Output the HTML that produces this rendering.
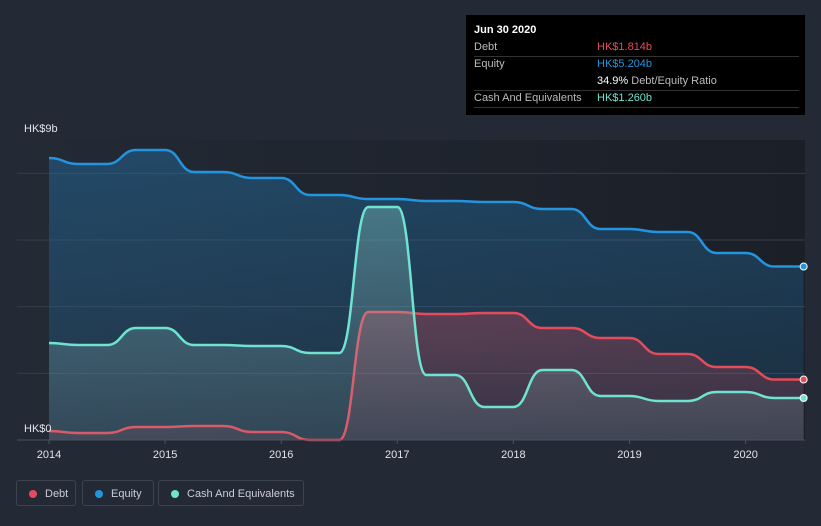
<!DOCTYPE html>
<html><head><meta charset="utf-8">
<style>
body{margin:0;background:#232a35;font-family:"Liberation Sans",sans-serif;}
#wrap{position:relative;width:821px;height:526px;overflow:hidden;background:#232a35;}
svg{position:absolute;left:0;top:0;}
.tt{position:absolute;left:466px;top:15px;width:339px;height:100px;background:#000;color:#fff;font-size:11px;}
.row{position:absolute;left:8px;right:6px;height:17px;border-bottom:1px solid #333;}
.row span{position:absolute;top:2px;}
.leg{position:absolute;top:480px;height:26px;border:1px solid #3c4452;border-radius:3px;color:#ccd;font-size:11px;line-height:26px;box-sizing:border-box;padding-left:28px;}
.leg i{position:absolute;left:12px;top:9px;width:8px;height:8px;border-radius:50%;}
</style></head><body>
<div id="wrap">
<svg id="chart" width="821" height="526">
<defs>
<linearGradient id="gEq" x1="0" y1="0" x2="0" y2="1"><stop offset="0" stop-color="#2394df" stop-opacity="0.3"/><stop offset="1" stop-color="#2394df" stop-opacity="0.12"/></linearGradient>
<linearGradient id="gDe" x1="0" y1="0" x2="0" y2="1"><stop offset="0" stop-color="#e64b5b" stop-opacity="0.3"/><stop offset="1" stop-color="#e64b5b" stop-opacity="0.1"/></linearGradient>
<linearGradient id="gCa" x1="0" y1="0" x2="0" y2="1"><stop offset="0" stop-color="#8fd8cf" stop-opacity="0.35"/><stop offset="1" stop-color="#8fb0b5" stop-opacity="0.15"/></linearGradient>
<linearGradient id="gBg" x1="0" y1="0" x2="1" y2="0"><stop offset="0" stop-color="#232a35"/><stop offset="1" stop-color="#1b1f27"/></linearGradient>
</defs>
</svg>
<div class="tt">
 <div style="position:absolute;left:8px;top:9px;font-weight:bold;">Jun 30 2020</div>
 <div class="row" style="top:24px"><span style="color:#bbb">Debt</span><span style="left:123px;color:#e64b5b">HK$1.814b</span></div>
 <div class="row" style="top:41px;border:none"><span style="color:#bbb">Equity</span><span style="left:123px;color:#2394df">HK$5.204b</span></div>
 <div class="row" style="top:58px"><span style="left:123px;color:#fff">34.9% <span style="position:static;color:#bbb">Debt/Equity Ratio</span></span></div>
 <div class="row" style="top:75px"><span style="color:#bbb">Cash And Equivalents</span><span style="left:123px;color:#6fe3d0">HK$1.260b</span></div>
</div>
<div class="leg" style="left:16px;width:60px"><i style="background:#e64b5b"></i>Debt</div>
<div class="leg" style="left:82px;width:72px"><i style="background:#2394df"></i>Equity</div>
<div class="leg" style="left:158px;width:146px"><i style="background:#6fe3d0"></i>Cash And Equivalents</div>
</div>
<script>
const dates=[2014,2014.25,2014.5,2014.75,2015,2015.25,2015.5,2015.75,2016,2016.25,2016.5,2016.75,2017,2017.25,2017.5,2017.75,2018,2018.25,2018.5,2018.75,2019,2019.25,2019.5,2019.75,2020,2020.25,2020.5];
const equity=[8.46,8.28,8.28,8.7,8.7,8.04,8.04,7.86,7.86,7.35,7.35,7.23,7.23,7.17,7.17,7.14,7.14,6.93,6.93,6.33,6.33,6.24,6.24,5.61,5.61,5.204,5.204];
const cash=[2.91,2.85,2.85,3.36,3.36,2.85,2.85,2.82,2.82,2.61,2.61,6.99,6.99,1.95,1.95,0.99,0.99,2.1,2.1,1.32,1.32,1.17,1.17,1.44,1.44,1.26,1.26];
const debt=[0.27,0.21,0.21,0.39,0.39,0.42,0.42,0.24,0.24,0,0,3.84,3.84,3.78,3.78,3.81,3.81,3.36,3.36,3.06,3.06,2.58,2.58,2.19,2.19,1.814,1.814];
const yearTicks=[2014,2015,2016,2017,2018,2019,2020];
const gridVals=[2,4,6,8];
const X=d=>49+(d-2014)*116.1;
const Y=v=>440-v*33.33;
const svg=document.getElementById('chart');
const NS='http://www.w3.org/2000/svg';
function mk(t,a){const e=document.createElementNS(NS,t);for(const k in a)e.setAttribute(k,a[k]);svg.appendChild(e);return e;}
let bg=mk('rect',{x:17,y:140,width:788,height:300,fill:'url(#gBg)'});


gridVals.forEach(v=>{const l=mk('line',{x1:17,x2:805,y1:Y(v),y2:Y(v),stroke:'#343b47','stroke-width':1});

});
function path(vals){let d='M'+X(dates[0])+','+Y(vals[0]);for(let i=1;i<dates.length;i++){const x0=X(dates[i-1]),x1=X(dates[i]),m=(x0+x1)/2;d+=` C${m},${Y(vals[i-1])} ${m},${Y(vals[i])} ${x1},${Y(vals[i])}`;}return d;}
function series(vals,color,grad,name){const p=path(vals);
const a=mk('path',{d:p+` L${X(dates[dates.length-1])},440 L${X(dates[0])},440 Z`,fill:grad});


const l=mk('path',{d:p,fill:'none',stroke:color,'stroke-width':2.5});


const c=mk('circle',{cx:X(dates[dates.length-1]),cy:Y(vals[vals.length-1]),r:3.5,fill:color,stroke:'#fff','stroke-width':1});

}
series(equity,'#2394df','url(#gEq)','equity');
series(debt,'#e64b5b','url(#gDe)','debt');
series(cash,'#6fe3d0','url(#gCa)','cash');
const ax=mk('line',{x1:17,x2:805,y1:440,y2:440,stroke:'#4a525e','stroke-width':1});


yearTicks.forEach(y=>{const tk=mk('line',{x1:X(y),x2:X(y),y1:440,y2:444,stroke:'#4a525e'});


const t=mk('text',{x:X(y),y:458,fill:'#e0e3e8','font-size':11,'text-anchor':'middle'});t.textContent=y;

});
const t1=mk('text',{x:24,y:132,fill:'#e0e3e8','font-size':11});t1.textContent='HK$9b';


const t2=mk('text',{x:24,y:432,fill:'#e0e3e8','font-size':11});t2.textContent='HK$0';


</script>
</body></html>
